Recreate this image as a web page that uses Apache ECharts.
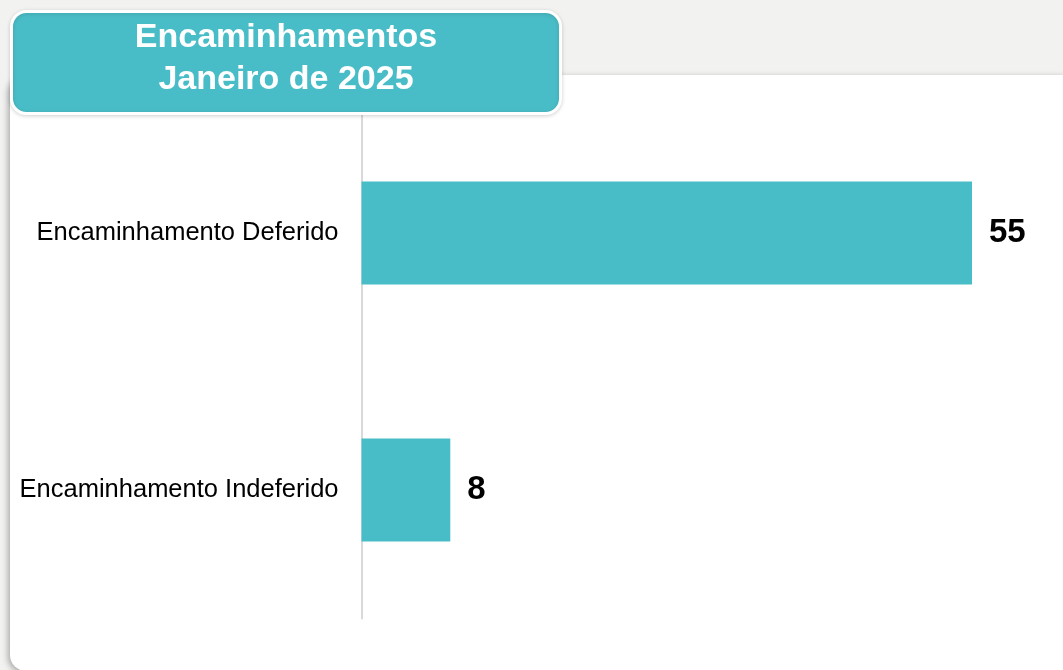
<!DOCTYPE html>
<html>
<head>
<meta charset="utf-8">
<script src="https://cdn.jsdelivr.net/npm/echarts@6/dist/echarts.min.js"></script>
<style>
  html, body { margin: 0; padding: 0; background: #f2f2f1; }
  #main { width: 1063px; height: 670px; }
</style>
</head>
<body>
<div id="main"></div>
<script>
// dados do gráfico
const categorias = ['Encaminhamento Deferido', 'Encaminhamento Indeferido'];
const valores = [55, 8];
const tituloLinhas = ['Encaminhamentos', 'Janeiro de 2025'];

const corBarra = '#49bdc7';
const fonte = '"Liberation Sans", Arial, sans-serif';

const chart = echarts.init(document.getElementById('main'), null, { renderer: 'canvas' });

const option = {
  backgroundColor: '#f2f2f1',
  textStyle: { fontFamily: fonte },
  title: {
    text: tituloLinhas.join('\n'),
    left: 281,
    top: 12,
    textAlign: 'center',
    z: 10,
    textStyle: {
      color: '#ffffff',
      fontSize: 34,
      fontWeight: 'bold',
      lineHeight: 42,
      fontFamily: fonte
    }
  },
  graphic: [
    {
      // cartão branco
      type: 'rect',
      z: -1,
      shape: { x: 10, y: 75, width: 1070, height: 596, r: 16 },
      style: {
        fill: '#ffffff',
        shadowBlur: 6,
        shadowColor: 'rgba(0,0,0,0.3)',
        shadowOffsetX: -2,
        shadowOffsetY: 2
      }
    },
    {
      // caixa do título
      type: 'rect',
      z: 8,
      shape: { x: 11.5, y: 11.5, width: 549, height: 102, r: 15 },
      style: {
        fill: corBarra,
        stroke: '#ffffff',
        lineWidth: 3,
        shadowBlur: 4,
        shadowColor: 'rgba(0,0,0,0.15)',
        shadowOffsetY: 1
      }
    }
  ],
  grid: {
    left: 361.5,
    right: 35.5,
    top: 104.5,
    bottom: 51.5,
    containLabel: false
  },
  xAxis: {
    type: 'value',
    min: 0,
    max: 60,
    show: false,
    splitLine: { show: false }
  },
  yAxis: {
    type: 'category',
    inverse: true,
    data: categorias,
    axisTick: { show: false },
    axisLine: { show: true, lineStyle: { color: '#d9d9d9', width: 2 } },
    axisLabel: {
      margin: 23,
      color: '#000000',
      fontSize: 25.5,
      fontFamily: fonte
    }
  },
  series: [
    {
      type: 'bar',
      data: valores,
      barWidth: '40%',
      itemStyle: { color: corBarra },
      label: {
        show: true,
        position: 'right',
        distance: 17,
        color: '#000000',
        fontSize: 33,
        fontWeight: 'bold',
        fontFamily: fonte
      }
    }
  ]
};

chart.setOption(option);
</script>
</body>
</html>
